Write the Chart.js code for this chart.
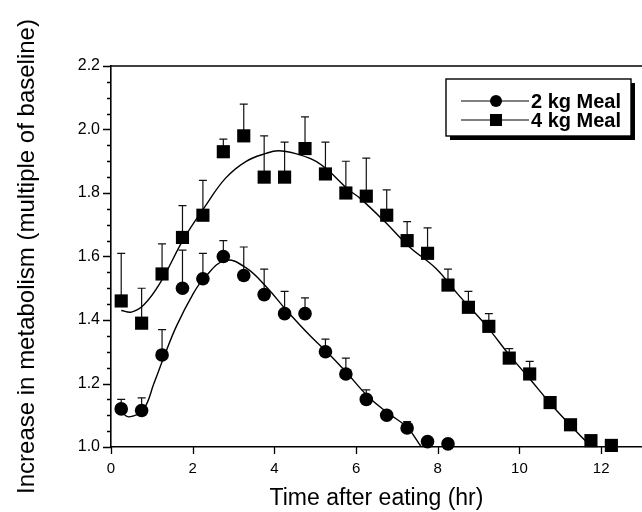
<!DOCTYPE html>
<html>
<head>
<meta charset="utf-8">
<title>Metabolism after eating</title>
<script src="https://cdn.jsdelivr.net/npm/chart.js@4.4.1/dist/chart.umd.min.js"></script>
<style>
	html, body { margin: 0; padding: 0; background: #fff; }
</style>
</head>
<body>
<canvas id="myChart" width="642" height="512"></canvas>
<script>
	// measured points (hours after eating, multiple of baseline, upper error bar)
	var hours2 = [0.25, 0.75, 1.25, 1.75, 2.25, 2.75, 3.25, 3.75, 4.25, 4.75, 5.25, 5.75, 6.25, 6.75, 7.25, 7.75, 8.25];
	var meal2 = [1.12, 1.115, 1.29, 1.50, 1.53, 1.60, 1.54, 1.48, 1.42, 1.42, 1.30, 1.23, 1.15, 1.10, 1.06, 1.017, 1.01];
	var err2 = [0.03, 0.04, 0.08, 0.12, 0.08, 0.05, 0.09, 0.08, 0.07, 0.05, 0.04, 0.05, 0.03, 0, 0.02, 0, 0];

	var hours4 = [0.25, 0.75, 1.25, 1.75, 2.25, 2.75, 3.25, 3.75, 4.25, 4.75, 5.25, 5.75, 6.25, 6.75, 7.25, 7.75, 8.25, 8.75, 9.25, 9.75, 10.25, 10.75, 11.25, 11.75, 12.25];
	var meal4 = [1.46, 1.39, 1.545, 1.66, 1.73, 1.93, 1.98, 1.85, 1.85, 1.94, 1.86, 1.80, 1.79, 1.73, 1.65, 1.61, 1.51, 1.44, 1.38, 1.28, 1.23, 1.14, 1.07, 1.02, 1.005];
	var err4 = [0.15, 0.11, 0.095, 0.10, 0.11, 0.04, 0.10, 0.13, 0.11, 0.10, 0.10, 0.10, 0.12, 0.08, 0.06, 0.08, 0.05, 0.05, 0.04, 0.03, 0.04, 0, 0, 0, 0];

	// fitted curves
	var fitX2 = [0.25, 0.45, 0.8, 1.05, 1.3, 1.6, 2.0, 2.3, 2.8, 3.3, 3.8, 4.3, 4.9, 5.3, 5.75, 6.3, 6.8, 7.25, 7.6];
	var fitY2 = [1.11, 1.095, 1.12, 1.2, 1.285, 1.38, 1.48, 1.535, 1.588, 1.565, 1.505, 1.43, 1.347, 1.298, 1.237, 1.158, 1.105, 1.062, 1.0];
	var fitX4 = [0.25, 0.5, 0.8, 1.2, 1.8, 2.3, 2.8, 3.3, 3.8, 4.1, 4.5, 4.95, 5.3, 5.8, 6.1, 6.7, 7.3, 7.95, 8.5, 9.2, 9.75, 10.25, 10.75, 11.25, 11.65, 11.8];
	var fitY4 = [1.43, 1.425, 1.447, 1.516, 1.66, 1.757, 1.846, 1.899, 1.925, 1.933, 1.925, 1.904, 1.873, 1.812, 1.783, 1.71, 1.631, 1.563, 1.48, 1.38, 1.29, 1.215, 1.138, 1.068, 1.015, 1.0];

	var seriesNames = ['2 kg Meal', '4 kg Meal'];
	var FONT = '"Liberation Sans", Arial, Helvetica, sans-serif';

	function toPoints(xs, ys) {
		return xs.map(function (x, i) { return { x: x, y: ys[i] }; });
	}

	// error bars go up from each marker, with a small cap
	function drawErrors(ctx, xs, ys, es, sx, sy) {
		for (let i = 0; i < xs.length; i++) {
			if (!es[i]) continue;
			let px = sx.getPixelForValue(xs[i]);
			let y0 = sy.getPixelForValue(ys[i]);
			let y1 = sy.getPixelForValue(ys[i] + es[i]);
			ctx.moveTo(px, y0); ctx.lineTo(px, y1);
			ctx.moveTo(px - 4, y1); ctx.lineTo(px + 4, y1);
		}
	}

	var errorBars = {
		id: 'errorBars',
		beforeDatasetsDraw: function (chart) {
			const ctx = chart.ctx, sx = chart.scales.x, sy = chart.scales.y;
			ctx.save();
			ctx.strokeStyle = '#111';
			ctx.lineWidth = 1.2;
			ctx.beginPath();
			drawErrors(ctx, hours2, meal2, err2, sx, sy);
			drawErrors(ctx, hours4, meal4, err4, sx, sy);
			ctx.stroke();
			ctx.restore();
		}
	};

	// top frame line, tick marks and the boxed legend with drop shadow
	var frameAndLegend = {
		id: 'frameAndLegend',
		afterDraw: function (chart) {
			const ctx = chart.ctx, a = chart.chartArea, sx = chart.scales.x, sy = chart.scales.y;
			ctx.save();
			ctx.strokeStyle = '#000';
			ctx.lineWidth = 1.6;
			ctx.beginPath();
			ctx.moveTo(a.left, a.top); ctx.lineTo(a.right, a.top);
			ctx.stroke();

			ctx.lineWidth = 1.3;
			ctx.beginPath();
			for (let v = 1.0; v <= 2.2001; v += 0.05) {
				let py = Math.round(sy.getPixelForValue(v)) + 0.5;
				let major = Math.abs(v * 5 - Math.round(v * 5)) < 0.001;
				ctx.moveTo(a.left - (major ? 8 : 4), py); ctx.lineTo(a.left, py);
			}
			for (let v = 0; v <= 12; v += 2) {
				let px = Math.round(sx.getPixelForValue(v)) + 0.5;
				ctx.moveTo(px, a.bottom); ctx.lineTo(px, a.bottom + 7);
			}
			ctx.stroke();

			// legend
			const bx = 446, by = 79, bw = 185, bh = 57;
			ctx.fillStyle = '#000';
			ctx.fillRect(bx + 4, by + 4, bw, bh);
			ctx.fillStyle = '#fff';
			ctx.fillRect(bx, by, bw, bh);
			ctx.lineWidth = 1.4;
			ctx.strokeRect(bx, by, bw, bh);

			const rows = [101, 120];
			ctx.font = 'bold 20px ' + FONT;
			ctx.textBaseline = 'middle';
			ctx.fillStyle = '#000';
			for (let i = 0; i < 2; i++) {
				ctx.lineWidth = 1;
				ctx.beginPath();
				ctx.moveTo(461, rows[i]); ctx.lineTo(529, rows[i]);
				ctx.stroke();
				ctx.beginPath();
				if (i === 0) {
					ctx.arc(496, rows[i], 6, 0, Math.PI * 2);
				} else {
					ctx.rect(490, rows[i] - 6, 12, 12);
				}
				ctx.fill();
				ctx.fillText(seriesNames[i], 531, rows[i] + 1);
			}
			ctx.restore();
		}
	};

	new Chart(document.getElementById('myChart'), {
		type: 'scatter',
		data: {
			datasets: [
				{
					label: seriesNames[0] + ' fit',
					data: toPoints(fitX2, fitY2),
					showLine: true, tension: 0.4, pointRadius: 0,
					borderColor: '#000', borderWidth: 1.4, order: 3
				},
				{
					label: seriesNames[1] + ' fit',
					data: toPoints(fitX4, fitY4),
					showLine: true, tension: 0.4, pointRadius: 0,
					borderColor: '#000', borderWidth: 1.4, order: 3
				},
				{
					label: seriesNames[0],
					data: toPoints(hours2, meal2),
					pointStyle: 'circle', pointRadius: 6.8,
					backgroundColor: '#000', borderColor: '#000', borderWidth: 0,
					clip: false, order: 1
				},
				{
					label: seriesNames[1],
					data: toPoints(hours4, meal4),
					pointStyle: 'rect', pointRadius: 9.3,
					backgroundColor: '#000', borderColor: '#000', borderWidth: 0,
					clip: false, order: 1
				}
			]
		},
		options: {
			responsive: false,
			animation: false,
			layout: { autoPadding: false, padding: { top: 66, right: 0, left: 0, bottom: 0 } },
			plugins: { legend: { display: false }, tooltip: { enabled: false } },
			scales: {
				x: {
					type: 'linear', min: 0, max: 13,
					afterFit: function (s) { s.height = 65; s.paddingRight = 0; s.paddingLeft = 0; },
					grid: { display: false, drawTicks: false },
					border: { display: true, color: '#000', width: 1.6 },
					ticks: {
						stepSize: 2, includeBounds: false, padding: 13, color: '#000',
						font: { family: FONT, size: 15 },
						callback: function (v) { return v % 2 === 0 ? String(v) : ''; }
					},
					title: {
						display: true, text: 'Time after eating (hr)', color: '#000',
						font: { family: FONT, size: 23 }, padding: { top: 0, bottom: 0 }
					}
				},
				y: {
					type: 'linear', min: 1.0, max: 2.2,
					afterFit: function (s) { s.width = 111; },
					grid: { display: false, drawTicks: false },
					border: { display: true, color: '#000', width: 1.6 },
					ticks: {
						stepSize: 0.2, padding: 11, color: '#000',
						font: { family: FONT, size: 16 },
						callback: function (v) { return Number(v).toFixed(1); }
					},
					title: {
						display: true, text: 'Increase in metabolism (multiple of baseline)', color: '#000',
						font: { family: FONT, size: 24 }, padding: { top: 13, bottom: 0 }
					}
				}
			}
		},
		plugins: [errorBars, frameAndLegend]
	});
</script>
</body>
</html>
